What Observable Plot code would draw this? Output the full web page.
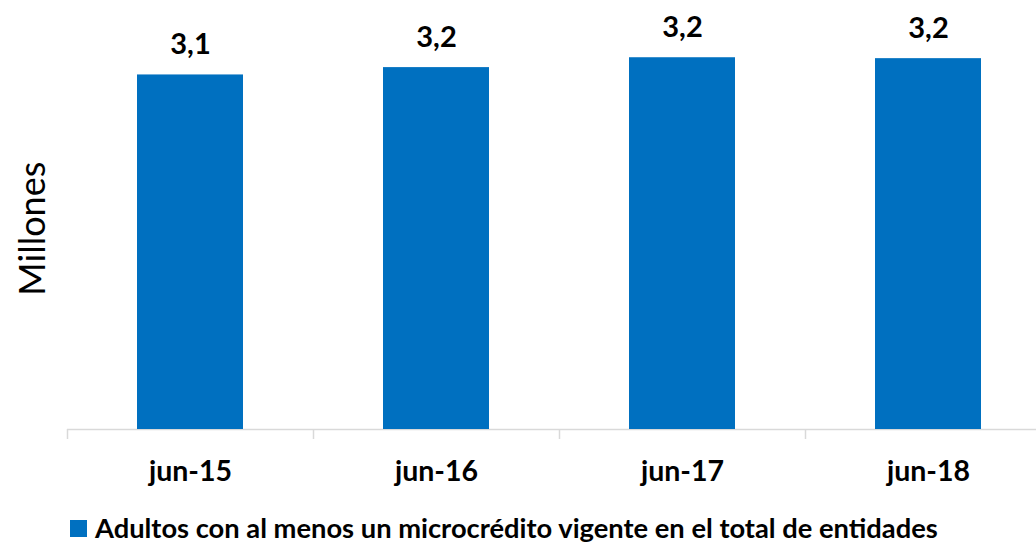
<!DOCTYPE html>
<html>
<head>
<meta charset="utf-8">
<script src="https://cdn.jsdelivr.net/npm/d3@7"></script>
<script src="https://cdn.jsdelivr.net/npm/@observablehq/plot@0.6"></script>
<style>
  html, body { margin: 0; padding: 0; background: #fff; }
  #chart svg { display: block; }
  .legend { display: flex; align-items: center; height: 34px; line-height: 1.1; padding-left: 70px; font-family: Lato, sans-serif; font-weight: 700; font-size: 27.3px; color: #000; white-space: nowrap; }
  .legend .sw { width: 17px; height: 17px; background: #0070c0; margin-right: 8px; flex: none; }
</style>
</head>
<body>
<div id="chart"></div>
<div class="legend"><span class="sw"></span><span>Adultos con al menos un microcrédito vigente en el total de entidades</span></div>
<script>
const categories = ["jun-15", "jun-16", "jun-17", "jun-18"];
const values = [3.09, 3.154, 3.240, 3.232];
const seriesName = "Adultos con al menos un microcrédito vigente en el total de entidades";
const yLabel = "Millones";

const data = categories.map((c, i) => ({cat: c, value: values[i]}));
const fmt = d => d.toFixed(1).replace(".", ",");

const xRange = [67, 1051];
const step = (xRange[1] - xRange[0]) / categories.length;

const chart = Plot.plot({
  width: 1036,
  height: 511,
  marginLeft: 67,
  marginRight: 0,
  marginTop: 27.4,
  marginBottom: 82,
  style: {fontFamily: "Lato, sans-serif", background: "white", color: "#000"},
  x: {domain: categories, range: xRange, paddingInner: 0.569, paddingOuter: 0.2845, axis: null},
  y: {domain: [0, 3.5], axis: null},
  marks: [
    Plot.ruleY([0], {stroke: "#d9d9d9", strokeWidth: 1.5}),
    Plot.axisX({tickSize: 10, tickFormat: () => "", dx: -step / 2, stroke: "#d9d9d9", strokeWidth: 1.5, label: null}),
    Plot.axisX({tickSize: 0, tickPadding: 31, fontSize: 28.5, fontWeight: "bold", fill: "#000", label: null}),
    Plot.barY(data, {x: "cat", y: "value", fill: "#0070c0"}),
    Plot.text(data, {x: "cat", y: "value", text: d => fmt(d.value), dy: -30, fontSize: 29, fontWeight: "bold", fill: "#000"}),
    Plot.text([yLabel], {frameAnchor: "left", textAnchor: "middle", rotate: -90, dx: -34, fontSize: 36, fill: "#000"})
  ]
});
document.getElementById("chart").append(chart);
</script>
</body>
</html>
